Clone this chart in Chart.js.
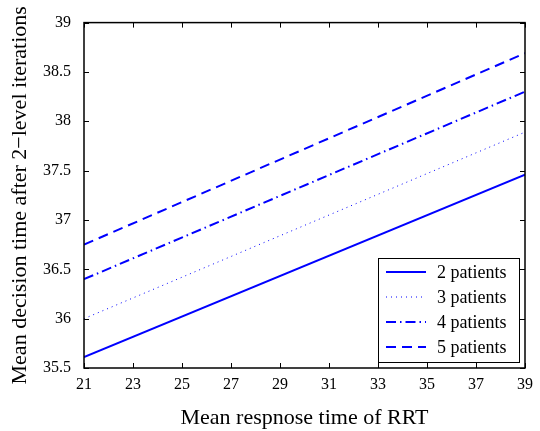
<!DOCTYPE html>
<html>
<head>
<meta charset="utf-8">
<script src="https://cdn.jsdelivr.net/npm/chart.js@4.4.1/dist/chart.umd.min.js"></script>
<style>
  html, body { margin: 0; padding: 0; background: #fff; }
  #wrap { width: 540px; height: 431px; position: relative; }
</style>
</head>
<body>
<div id="wrap"><canvas id="chart"></canvas></div>
<script>
// values (lines are straight, so the two ends are enough)
var xValues = [21, 39];
var patients2 = [35.61, 37.46];
var patients3 = [36.0, 37.89];
var patients4 = [36.4, 38.3];
var patients5 = [36.75, 38.69];
var seriesLabels = ['2 patients', '3 patients', '4 patients', '5 patients'];
var xTicks = [21, 23, 25, 27, 29, 31, 33, 35, 37, 39];
var yTicks = [35.5, 36, 36.5, 37, 37.5, 38, 38.5, 39];

var serif = "'Liberation Serif', 'DejaVu Serif', serif";
var blue = '#0000ff';

function toPoints(ys) {
    return xValues.map(function(x, i) { return {x: x, y: ys[i]}; });
}

var styles = [
    {dash: [], width: 2},
    {dash: [1, 4], width: 1},
    {dash: [10, 4, 1.5, 4], width: 2},
    {dash: [10, 6], width: 2}
];

var allSeries = [patients2, patients3, patients4, patients5];
var datasets = allSeries.map(function(s, i) {
    return {
        label: seriesLabels[i],
        data: toPoints(s),
        borderColor: blue,
        backgroundColor: blue,
        borderWidth: styles[i].width,
        borderDash: styles[i].dash,
        pointRadius: 0,
        tension: 0,
        fill: false
    };
});

// frame, inward ticks and the boxed legend, MATLAB style
var framePlugin = {
    id: 'frame',
    afterDatasetsDraw: function(chart) {
        var ctx = chart.ctx;
        var a = chart.chartArea;
        var xs = chart.scales.x, ys = chart.scales.y;
        ctx.save();
        ctx.strokeStyle = '#000';
        ctx.lineWidth = 1;
        var tl = 5;
        ctx.beginPath();
        xTicks.forEach(function(t) {
            var px = Math.round(xs.getPixelForValue(t)) + 0.5;
            ctx.moveTo(px, a.bottom); ctx.lineTo(px, a.bottom - tl);
            ctx.moveTo(px, a.top); ctx.lineTo(px, a.top + tl);
        });
        yTicks.forEach(function(t) {
            var py = Math.round(ys.getPixelForValue(t)) + 0.5;
            ctx.moveTo(a.left, py); ctx.lineTo(a.left + tl, py);
            ctx.moveTo(a.right, py); ctx.lineTo(a.right - tl, py);
        });
        ctx.stroke();
        ctx.lineWidth = 1.5;
        ctx.strokeRect(a.left, a.top, a.right - a.left, a.bottom - a.top);

        // legend box
        var bx = 378, by = 258, bw = 141, bh = 104;
        ctx.fillStyle = '#fff';
        ctx.fillRect(bx, by, bw, bh);
        ctx.lineWidth = 1;
        ctx.strokeRect(bx + 0.5, by + 0.5, bw, bh);
        ctx.font = '18px ' + serif;
        ctx.textBaseline = 'middle';
        chart.data.datasets.forEach(function(ds, i) {
            var cy = 272 + i * 25;
            ctx.beginPath();
            ctx.strokeStyle = ds.borderColor;
            ctx.lineWidth = ds.borderWidth;
            ctx.setLineDash(ds.borderDash);
            ctx.moveTo(386, cy); ctx.lineTo(426, cy);
            ctx.stroke();
            ctx.setLineDash([]);
            ctx.fillStyle = '#000';
            ctx.fillText(ds.label, 437, cy + 1);
        });
        ctx.restore();
    }
};

new Chart(document.getElementById('chart'), {
    type: 'line',
    data: { datasets: datasets },
    options: {
        responsive: true,
        maintainAspectRatio: false,
        animation: false,
        layout: { padding: { top: 22, right: 13, left: 0, bottom: 0 } },
        plugins: {
            legend: { display: false },
            tooltip: { enabled: false }
        },
        scales: {
            x: {
                type: 'linear',
                min: 21,
                max: 39,
                afterBuildTicks: function(scale) {
                    scale.ticks = xTicks.map(function(v) { return {value: v}; });
                },
                afterFit: function(scale) { scale.height = 63; },
                grid: { display: false, drawTicks: false },
                border: { display: false },
                ticks: {
                    padding: 7,
                    color: '#000',
                    font: { family: serif, size: 16 },
                    maxRotation: 0,
                    callback: function(v) { return String(v); }
                },
                title: {
                    display: true,
                    text: 'Mean respnose time of RRT',
                    color: '#000',
                    font: { family: serif, size: 22 },
                    padding: { top: 4, bottom: 0 }
                }
            },
            y: {
                type: 'linear',
                min: 35.5,
                max: 39,
                afterBuildTicks: function(scale) {
                    scale.ticks = yTicks.map(function(v) { return {value: v}; });
                },
                afterFit: function(scale) { scale.width = 84; },
                grid: { display: false, drawTicks: false },
                border: { display: false },
                ticks: {
                    padding: 13,
                    color: '#000',
                    font: { family: serif, size: 16 },
                    callback: function(v) { return String(v); }
                },
                title: {
                    display: true,
                    text: 'Mean decision time after 2\u2212level iterations',
                    color: '#000',
                    font: { family: serif, size: 22 },
                    padding: { top: 7, bottom: 0 }
                }
            }
        }
    },
    plugins: [framePlugin]
});
</script>
</body>
</html>
